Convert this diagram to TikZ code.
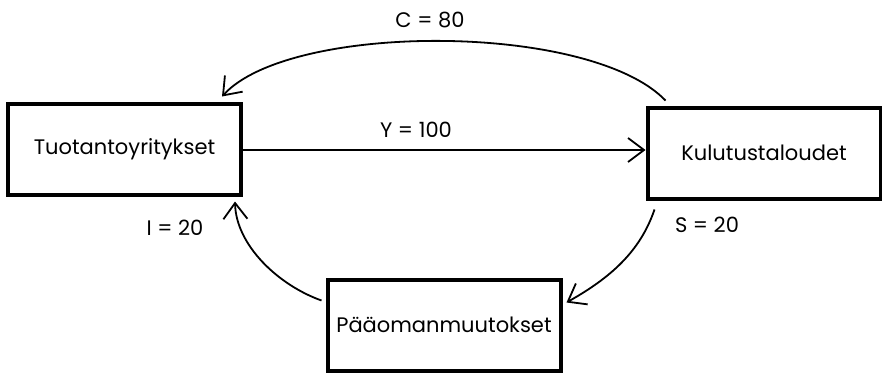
\documentclass[tikz,border=0pt]{standalone}
\usepackage{fontspec}
\setmainfont{Poppins}
\usetikzlibrary{arrows.meta}
\begin{document}
\begin{tikzpicture}[x=1pt,y=-1pt,
  box/.style={draw,line width=4pt,minimum width=233pt,minimum height=91pt,inner sep=0pt,font=\fontsize{21}{24}\selectfont},
  lbl/.style={font=\fontsize{21}{24}\selectfont,inner sep=0pt},
  flow/.style={line width=1.8pt,-{Straight Barb[length=16pt,width=24pt,line width=1.8pt]}}]
\useasboundingbox (0,0) rectangle (882,372);
\node[box] (t) at (124.5,149) {Tuotantoyritykset};
\node[box] (k) at (764,153) {Kulutustaloudet};
\node[box] (p) at (444,325) {Pääomanmuutokset};
\coordinate (cs) at ([shift={(20,-5)}]k.north west);
\coordinate (ce) at ([shift={(-21,-5)}]t.north east);
\coordinate (ss) at ([shift={(9,9)}]k.south west);
\coordinate (se) at ([shift={(4,25)}]p.north east);
\coordinate (is) at ([shift={(-4,23)}]p.north west);
\coordinate (ie) at ([shift={(-8,5)}]t.south east);
\draw[flow,line width=1.5pt] (t.east |- 0,150) -- (k.west |- 0,150);
\draw[flow] (cs) .. controls (590,22) and (290,22) .. (ce);
\draw[flow] (ss) .. controls (640,252) and (610,278) .. (se);
\draw[flow] (is) .. controls (278,285) and (236,245) .. (ie);
\node[lbl] (lc) at (430,20) {C = 80};
\node[lbl] (ly) at (416,130) {Y = 100};
\node[lbl] (li) at (175,228) {I = 20};
\node[lbl] (ls) at (707,225) {S = 20};
\end{tikzpicture}
\end{document}
